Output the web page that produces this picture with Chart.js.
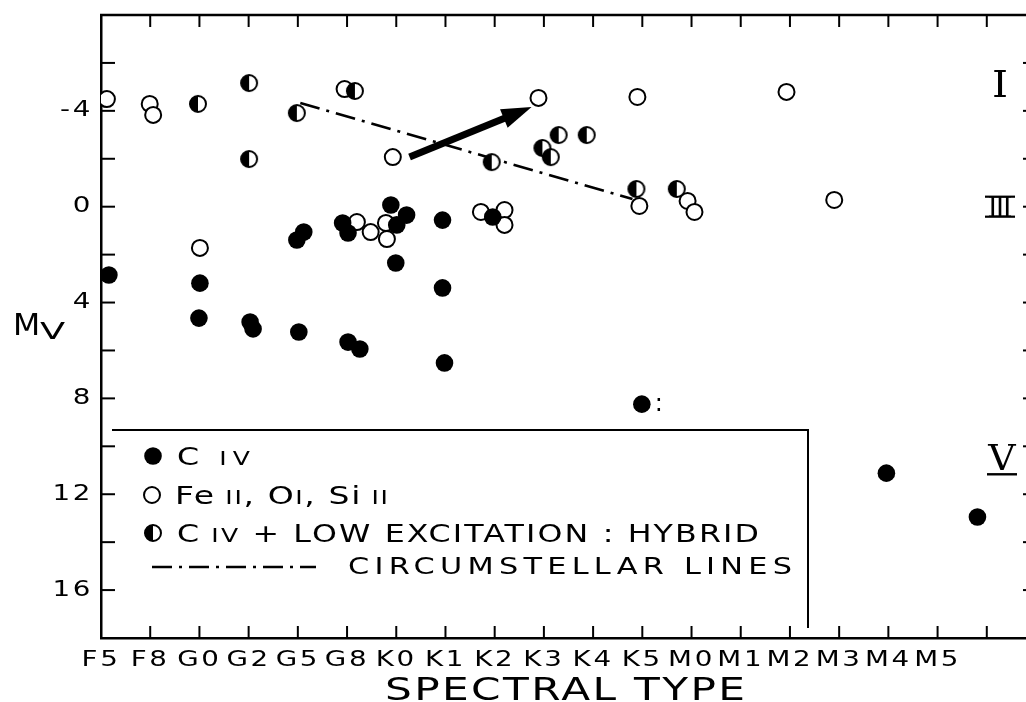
<!DOCTYPE html>
<html>
<head>
<meta charset="utf-8">
<title>C IV and low-excitation emission against spectral type</title>
<script src="https://cdn.jsdelivr.net/npm/chart.js@4.4.1/dist/chart.umd.min.js"></script>
<style>
  html, body { margin: 0; padding: 0; background: #fff; overflow: hidden; }
  #wrap { width: 1026px; height: 702px; overflow: hidden; }
  canvas { display: block; }
</style>
</head>
<body>
<div id="wrap"><canvas id="hr" width="1050" height="702"></canvas></div>
<script>
// Spectral-type axis: one step per listed subclass (the last tick is unlabelled).
const spectralTypes = ['F5', 'F8', 'G0', 'G2', 'G5', 'G8', 'K0', 'K1', 'K2', 'K3', 'K4', 'K5', 'M0', 'M1', 'M2', 'M3', 'M4', 'M5'];
const typeTicks = [0, 1, 2, 3, 4, 5, 6, 7, 8, 9, 10, 11, 12, 13, 14, 15, 16, 17, 18, 19];
// Absolute visual magnitude axis (brighter upward).
const mvTicks = [-8, -6, -4, -2, 0, 2, 4, 6, 8, 10, 12, 14, 16, 18];
const mvLabelled = [-4, 0, 4, 8, 12, 16];

// Stars as [spectral-type index, Mv]
const civStars = [
  [0.16, 2.85], [2.01, 3.19], [1.99, 4.65], [3.03, 4.81], [3.09, 5.10],
  [4.02, 5.23], [5.02, 5.65], [5.26, 5.94], [6.98, 6.52], [6.94, 3.39],
  [5.99, 2.35], [3.98, 1.39], [4.12, 1.06], [4.91, 0.68], [5.02, 1.10],
  [5.89, -0.07], [6.21, 0.35], [6.01, 0.76], [6.94, 0.56], [7.96, 0.43],
  [10.99, 8.24], [15.96, 11.12], [17.81, 12.95]
];
const lowExcitationStars = [
  [0.12, -4.49], [0.99, -4.29], [1.06, -3.83], [2.01, 1.72], [4.95, -4.91],
  [5.93, -2.07], [8.89, -4.54], [10.90, -4.58], [10.94, -0.03], [11.92, -0.24],
  [12.06, 0.22], [13.93, -4.79], [14.90, -0.28], [5.20, 0.64], [5.48, 1.06],
  [5.79, 0.68], [5.81, 1.35], [7.72, 0.22], [8.20, 0.14], [8.20, 0.76]
];
const hybridStars = [
  [1.97, -4.29], [3.01, -5.16], [3.01, -1.99], [3.98, -3.91], [5.16, -4.83],
  [7.94, -1.86], [8.97, -2.45], [9.14, -2.07], [9.30, -2.99], [9.87, -2.99],
  [10.88, -0.74], [11.70, -0.74]
];
// Stars showing circumstellar lines
const circumstellarTrend = [[4.05, -4.33], [10.80, -0.32]];
// Heavy arrow between the two K-type stars
const shiftArrow = [[6.27, -2.07], [8.75, -4.16]];
// The faint K5 dwarf carries an uncertainty colon
const uncertainStar = civStars[20];
// Luminosity classes marked along the right edge
const luminosityClasses = [['I', -5.1], ['III', 0.0], ['V', 10.5]];

const FONT = '"DejaVu Sans", "Liberation Sans", sans-serif';
const SERIF = '"DejaVu Serif", "Liberation Serif", serif';
const STRETCH = 1.32;   // the lettering on this figure is extended

const toXY = arr => arr.map(([x, y]) => ({ x, y }));

// Half-filled symbol: dark left half, open right half
function makeHybridSymbol(r, lw) {
  const c = document.createElement('canvas');
  const s = Math.ceil(2 * r + lw + 2);
  c.width = c.height = s;
  const g = c.getContext('2d');
  const m = s / 2;
  g.beginPath(); g.arc(m, m, r, 0, Math.PI * 2); g.fillStyle = '#fff'; g.fill();
  g.beginPath(); g.moveTo(m, m - r); g.arc(m, m, r, -Math.PI / 2, Math.PI / 2, true); g.closePath();
  g.fillStyle = '#000'; g.fill();
  g.beginPath(); g.arc(m, m, r, 0, Math.PI * 2); g.lineWidth = lw; g.strokeStyle = '#000'; g.stroke();
  return c;
}
const hybridSymbol = makeHybridSymbol(8, 2);

// Draw a run of text pieces (mixed sizes), widened and spaced out
function lettering(ctx, parts, x, y, o = {}) {
  const sx = o.sx ?? STRETCH;
  const family = o.family ?? FONT;
  ctx.save();
  ctx.letterSpacing = '0px';
  ctx.textAlign = 'left';
  ctx.textBaseline = 'alphabetic';
  ctx.fillStyle = '#000';
  let natural = 0, chars = 0;
  for (const p of parts) {
    ctx.font = `${p.size}px ${family}`;
    natural += ctx.measureText(p.text).width;
    chars += [...p.text].length;
  }
  let spacing = o.spacing ?? 0;
  if (o.width) spacing = (o.width / sx - natural) / Math.max(1, chars - 1);
  const total = sx * (natural + spacing * (chars - 1));
  let start = x;
  if (o.align === 'center') start = x - total / 2;
  else if (o.align === 'right') start = x - total;
  ctx.translate(start, y);
  ctx.scale(sx, 1);
  let cx = 0;
  for (const p of parts) {
    ctx.font = `${p.size}px ${family}`;
    const w = ctx.measureText(p.text).width;
    ctx.letterSpacing = spacing + 'px';
    ctx.fillText(p.text, cx, p.dy ?? 0);
    ctx.letterSpacing = '0px';
    cx += w + spacing * [...p.text].length;
  }
  ctx.restore();
  return total;
}

function segment(ctx, x1, y1, x2, y2, w, dash) {
  ctx.save();
  ctx.beginPath();
  ctx.lineWidth = w;
  ctx.strokeStyle = '#000';
  ctx.setLineDash(dash || []);
  ctx.moveTo(x1, y1); ctx.lineTo(x2, y2);
  ctx.stroke();
  ctx.restore();
}

function filledSymbol(ctx, x, y) {
  ctx.beginPath(); ctx.arc(x, y, 8.8, 0, Math.PI * 2); ctx.fillStyle = '#000'; ctx.fill();
}
function openSymbol(ctx, x, y) {
  ctx.beginPath(); ctx.arc(x, y, 8, 0, Math.PI * 2);
  ctx.fillStyle = '#fff'; ctx.fill();
  ctx.lineWidth = 2; ctx.strokeStyle = '#000'; ctx.stroke();
}

const DASH_DOT = [20, 7, 3, 7];

// Chart.js tick labels get the same extended lettering
const baseFillText = CanvasRenderingContext2D.prototype.fillText;
const extendedTicks = {
  id: 'extendedTicks',
  beforeDraw(chart) {
    const ctx = chart.ctx;
    ctx.letterSpacing = '2px';
    ctx.fillText = function (text, x, y) {
      this.save();
      this.translate(x, y);
      this.scale(STRETCH, 1);
      baseFillText.call(this, text, 0, 0);
      this.restore();
    };
  },
  afterDraw(chart) {
    delete chart.ctx.fillText;
    chart.ctx.letterSpacing = '0px';
  }
};

// Closed frame with inward tick marks on all four sides
const frameTicks = {
  id: 'frameTicks',
  beforeDatasetsDraw(chart) {
    const { ctx, chartArea: a, scales: { x: xs, y: ys } } = chart;
    segment(ctx, a.left - 1, a.top, a.right, a.top, 2.5);
    segment(ctx, a.right, a.top, a.right, a.bottom, 2.5);
    for (const t of xs.ticks) {
      const px = xs.getPixelForValue(t.value);
      if (px <= a.left + 1 || px >= a.right - 1) continue;
      segment(ctx, px, a.bottom, px, a.bottom - 12, 2);
      segment(ctx, px, a.top, px, a.top + 12, 2);
    }
    for (const t of ys.ticks) {
      const py = ys.getPixelForValue(t.value);
      if (py <= a.top + 1 || py >= a.bottom - 1) continue;
      segment(ctx, a.left, py, a.left + 14, py, 2);
      segment(ctx, a.right, py, a.right - 13, py, 2);
    }
  }
};

// Arrow, class numerals, key, axis titles
const annotations = {
  id: 'annotations',
  afterDraw(chart) {
    const { ctx, chartArea: a, scales: { x: xs, y: ys } } = chart;

    // heavy arrow
    const [t, h] = shiftArrow.map(([u, v]) => [xs.getPixelForValue(u), ys.getPixelForValue(v)]);
    const ang = Math.atan2(h[1] - t[1], h[0] - t[0]);
    const headLen = 30, headHalf = 10;
    const bx = h[0] - headLen * Math.cos(ang), by = h[1] - headLen * Math.sin(ang);
    segment(ctx, t[0], t[1], bx + 2 * Math.cos(ang), by + 2 * Math.sin(ang), 7);
    ctx.beginPath();
    ctx.moveTo(h[0], h[1]);
    ctx.lineTo(bx + headHalf * Math.sin(ang), by - headHalf * Math.cos(ang));
    ctx.lineTo(bx - headHalf * Math.sin(ang), by + headHalf * Math.cos(ang));
    ctx.closePath();
    ctx.fillStyle = '#000';
    ctx.fill();

    // uncertainty colon beside the faint K5 star
    lettering(ctx, [{ text: ':', size: 24 }],
      xs.getPixelForValue(uncertainStar[0]) + 13, ys.getPixelForValue(uncertainStar[1]) + 7, { sx: 1 });

    // luminosity classes
    const nx = a.right - 36;
    for (const [label, mv] of luminosityClasses) {
      const py = ys.getPixelForValue(mv);
      if (label === 'I') {
        lettering(ctx, [{ text: 'I', size: 37 }], nx, py + 13, { family: SERIF, sx: 1.1, align: 'center' });
      } else if (label === 'III') {
        lettering(ctx, [{ text: 'III', size: 28 }], nx, py + 10, { family: SERIF, sx: 0.95, spacing: -3.5, align: 'center' });
        segment(ctx, nx - 15, py - 10, nx + 15, py - 10, 2.2);
        segment(ctx, nx - 15, py + 10, nx + 15, py + 10, 2.2);
      } else {
        lettering(ctx, [{ text: 'V', size: 36 }], nx + 2, py + 12, { family: SERIF, sx: 1.05, align: 'center' });
        segment(ctx, nx - 13, py + 16, nx + 17, py + 16, 2.4);
      }
    }

    // key
    segment(ctx, 112, 430, 809, 430, 2);
    segment(ctx, 808, 430, 808, 628, 2);
    filledSymbol(ctx, 153, 456);
    lettering(ctx, [{ text: 'C', size: 24 }, { text: ' IV', size: 19 }], 177, 465, { width: 73 });
    openSymbol(ctx, 152, 495);
    lettering(ctx, [
      { text: 'Fe', size: 25 }, { text: ' II', size: 19 }, { text: ', O', size: 25 },
      { text: 'I', size: 19 }, { text: ', Si', size: 25 }, { text: ' II', size: 19 }
    ], 175, 504, { width: 213 });
    ctx.drawImage(hybridSymbol, 153 - hybridSymbol.width / 2, 533 - hybridSymbol.height / 2);
    lettering(ctx, [
      { text: 'C', size: 24 }, { text: ' IV', size: 19 }, { text: ' + LOW EXCITATION : HYBRID', size: 24 }
    ], 177, 542, { width: 582 });
    segment(ctx, 152, 567, 316, 567, 2.6, DASH_DOT);
    lettering(ctx, [{ text: 'CIRCUMSTELLAR LINES', size: 23 }], 348, 574, { width: 444 });

    // axis titles
    lettering(ctx, [{ text: 'SPECTRAL TYPE', size: 32 }], 385, 700, { width: 360 });
    lettering(ctx, [{ text: 'M', size: 30 }], 13, 335, { sx: 1.05 });
    lettering(ctx, [{ text: 'V', size: 23 }], 40, 339, { sx: 1.6 });
  }
};

new Chart(document.getElementById('hr'), {
  type: 'scatter',
  data: {
    datasets: [
      {
        label: 'C IV + low excitation: hybrid',
        data: toXY(hybridStars),
        pointStyle: hybridSymbol,
        pointRadius: 9,
        order: 1
      },
      {
        label: 'C IV',
        data: toXY(civStars),
        pointStyle: 'circle',
        pointRadius: 8.8,
        backgroundColor: '#000',
        borderWidth: 0,
        order: 2
      },
      {
        label: 'Fe II, O I, Si II',
        data: toXY(lowExcitationStars),
        pointStyle: 'circle',
        pointRadius: 8,
        backgroundColor: '#fff',
        borderColor: '#000',
        borderWidth: 2,
        order: 3
      },
      {
        label: 'Circumstellar lines',
        data: toXY(circumstellarTrend),
        showLine: true,
        borderColor: '#000',
        borderWidth: 2.6,
        borderDash: DASH_DOT,
        pointRadius: 0,
        fill: false,
        order: 4
      }
    ]
  },
  options: {
    responsive: false,
    devicePixelRatio: 1,
    animation: false,
    events: [],
    layout: { padding: { top: 15, right: 14, left: 0, bottom: 0 } },
    plugins: { legend: { display: false }, tooltip: { enabled: false } },
    scales: {
      x: {
        type: 'linear',
        position: 'bottom',
        min: 0,
        max: 19,
        afterBuildTicks: s => { s.ticks = typeTicks.map(v => ({ value: v })); },
        afterFit: s => { s.height = 64; },
        grid: { display: false, drawTicks: false },
        border: { display: true, color: '#000', width: 2.5 },
        ticks: {
          autoSkip: false,
          maxRotation: 0,
          padding: 10,
          color: '#000',
          font: { family: FONT, size: 21 },
          callback: v => spectralTypes[v] ?? ''
        }
      },
      y: {
        type: 'linear',
        position: 'left',
        reverse: true,
        min: -8,
        max: 18,
        afterBuildTicks: s => { s.ticks = mvTicks.map(v => ({ value: v })); },
        afterFit: s => { s.width = 101; },
        grid: { display: false, drawTicks: false },
        border: { display: true, color: '#000', width: 2.5 },
        ticks: {
          padding: 8,
          color: '#000',
          font: { family: FONT, size: 21, lineHeight: 0.5 },
          callback: v => (mvLabelled.includes(v) ? String(v) : '')
        }
      }
    }
  },
  plugins: [extendedTicks, frameTicks, annotations]
});
</script>
</body>
</html>
